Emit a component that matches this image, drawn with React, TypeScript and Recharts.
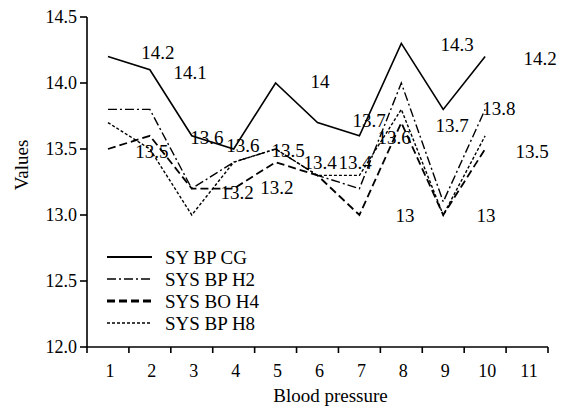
import React from 'react';
import { LineChart, Line, XAxis, YAxis, Legend, ReferenceDot } from 'recharts';

const categories = [1, 2, 3, 4, 5, 6, 7, 8, 9, 10];
const xTickLabels = [1, 2, 3, 4, 5, 6, 7, 8, 9, 10, 11];
const yTicks = [12.0, 12.5, 13.0, 13.5, 14.0, 14.5];
const syBpCg = [14.2, 14.1, 13.6, 13.5, 14.0, 13.7, 13.6, 14.3, 13.8, 14.2];
const sysBpH2 = [13.8, 13.8, 13.2, 13.4, 13.5, 13.3, 13.2, 14.0, 13.1, 13.8];
const sysBoH4 = [13.5, 13.6, 13.2, 13.2, 13.4, 13.3, 13.0, 13.7, 13.0, 13.5];
const sysBpH8 = [13.7, 13.5, 13.0, 13.4, 13.5, 13.3, 13.3, 13.8, 13.0, 13.6];
const seriesNames = ['SY BP CG', 'SYS BP H2', 'SYS BO H4', 'SYS BP H8'];

// value annotations (data-space anchor + text)
const annotations = [
  { x: 2.19, y: 14.23, text: '14.2' },
  { x: 2.96, y: 14.08, text: '14.1' },
  { x: 3.36, y: 13.59, text: '13.6' },
  { x: 4.22, y: 13.53, text: '13.6' },
  { x: 2.05, y: 13.48, text: '13.5' },
  { x: 4.08, y: 13.17, text: '13.2' },
  { x: 5.03, y: 13.21, text: '13.2' },
  { x: 5.3, y: 13.49, text: '13.5' },
  { x: 6.06, y: 14.01, text: '14' },
  { x: 6.06, y: 13.4, text: '13.4' },
  { x: 6.9, y: 13.4, text: '13.4' },
  { x: 7.23, y: 13.72, text: '13.7' },
  { x: 7.83, y: 13.59, text: '13.6' },
  { x: 9.33, y: 14.29, text: '14.3' },
  { x: 9.21, y: 13.68, text: '13.7' },
  { x: 11.31, y: 14.19, text: '14.2' },
  { x: 10.33, y: 13.81, text: '13.8' },
  { x: 11.12, y: 13.48, text: '13.5' },
  { x: 8.09, y: 13.0, text: '13' },
  { x: 10.02, y: 13.0, text: '13' },
];

const data = categories.map((c, i) => ({
  x: c,
  cg: syBpCg[i],
  h2: sysBpH2[i],
  h4: sysBoH4[i],
  h8: sysBpH8[i],
}));

const FONT = '"Liberation Serif", "Times New Roman", serif';
const W = 561;
const H = 409;
const MARGIN = { top: 17, right: 13, left: 10, bottom: 0 };
const Y_AXIS_W = 77;
const X_AXIS_H = 62;
const PLOT_LEFT = MARGIN.left + Y_AXIS_W;
const PLOT_W = W - PLOT_LEFT - MARGIN.right;
const PLOT_BOTTOM = H - X_AXIS_H;
const HALF_BAND = PLOT_W / 11 / 2;

const styles = [
  { key: 'cg', dash: undefined as string | undefined, width: 1.6, legendWidth: 1.8 },
  { key: 'h2', dash: '9 3 2 3', width: 1.4, legendWidth: 1.3 },
  { key: 'h4', dash: '8 4', width: 1.8, legendWidth: 2.8 },
  { key: 'h8', dash: '3 2', width: 1.4, legendWidth: 1.3 },
];

const XTick = (props: any) => {
  const { x, payload, index } = props;
  return (
    <g>
      <text x={x + 2} y={PLOT_BOTTOM + 30} textAnchor="middle" fontSize={18} fontFamily={FONT} fill="#000">
        {payload.value}
      </text>
      <line x1={x + HALF_BAND} x2={x + HALF_BAND} y1={PLOT_BOTTOM} y2={PLOT_BOTTOM + 6} stroke="#000" strokeWidth={1.6} />
      {index === 0 ? (
        <line x1={x - HALF_BAND} x2={x - HALF_BAND} y1={PLOT_BOTTOM} y2={PLOT_BOTTOM + 6} stroke="#000" strokeWidth={1.6} />
      ) : null}
    </g>
  );
};

const XTitle = (props: any) => {
  const vb = props.viewBox;
  return (
    <text x={vb.x + vb.width / 2 + 13} y={402} textAnchor="middle" fontSize={19} fontFamily={FONT} fill="#000">
      Blood pressure
    </text>
  );
};

const YTitle = (props: any) => {
  const vb = props.viewBox;
  const cy = vb.y + vb.height / 2 - 17;
  return (
    <text x={0} y={0} transform={`translate(28, ${cy}) rotate(-90)`} textAnchor="middle" fontSize={19} fontFamily={FONT} fill="#000">
      Values
    </text>
  );
};

const AnnotationLabel = (text: string) => (props: any) => {
  const vb = props.viewBox;
  const cx = vb.x + vb.width / 2;
  const cy = vb.y + vb.height / 2;
  return (
    <text x={cx} y={cy} dy="0.35em" textAnchor="middle" fontSize={19} fontFamily={FONT} fill="#000">
      {text}
    </text>
  );
};

const LegendContent = () => (
  <svg width={200} height={92}>
    {seriesNames.map((name, i) => {
      const s = styles[i];
      const y = 12 + i * 22;
      return (
        <g key={name}>
          <line x1={7} x2={52} y1={y} y2={y} stroke="#000" strokeWidth={s.legendWidth} strokeDasharray={s.dash} />
          <text x={65} y={y} dy="0.35em" fontSize={19} fontFamily={FONT} fill="#000">
            {name}
          </text>
        </g>
      );
    })}
  </svg>
);

export default function App() {
  return (
    <div style={{ position: 'absolute', left: 0, top: 0, width: W, height: H, background: '#fff' }}>
      <LineChart width={W} height={H} data={data} margin={MARGIN}>
        <XAxis
          type="number"
          dataKey="x"
          domain={[0.5, 11.5]}
          ticks={xTickLabels}
          interval={0}
          tickLine={false}
          tick={<XTick />}
          height={X_AXIS_H}
          axisLine={{ stroke: '#000', strokeWidth: 1.6 }}
          allowDataOverflow
          label={<XTitle />}
        />
        <YAxis
          type="number"
          domain={[12, 14.5]}
          ticks={yTicks}
          interval={0}
          width={Y_AXIS_W}
          tickSize={7}
          tickMargin={3}
          tickFormatter={(v: number) => v.toFixed(1)}
          tick={{ fontSize: 18, fontFamily: FONT, fill: '#000' }}
          tickLine={{ stroke: '#000', strokeWidth: 1.6 }}
          axisLine={{ stroke: '#000', strokeWidth: 1.6 }}
          allowDataOverflow
          label={<YTitle />}
        />
        {styles.map((s, i) => (
          <Line
            key={s.key}
            type="linear"
            dataKey={s.key}
            name={seriesNames[i]}
            stroke="#000"
            strokeWidth={s.width}
            strokeDasharray={s.dash}
            dot={false}
            activeDot={false}
            isAnimationActive={false}
          />
        ))}
        {annotations.map((a, i) => (
          <ReferenceDot
            key={i}
            x={a.x}
            y={a.y}
            r={1}
            fill="none"
            stroke="none"
            ifOverflow="visible"
            label={AnnotationLabel(a.text)}
          />
        ))}
        <Legend
          layout="vertical"
          align="center"
          verticalAlign="middle"
          content={<LegendContent />}
          wrapperStyle={{ position: 'absolute', left: 100, top: 245, width: 200, height: 92 }}
        />
      </LineChart>
    </div>
  );
}
